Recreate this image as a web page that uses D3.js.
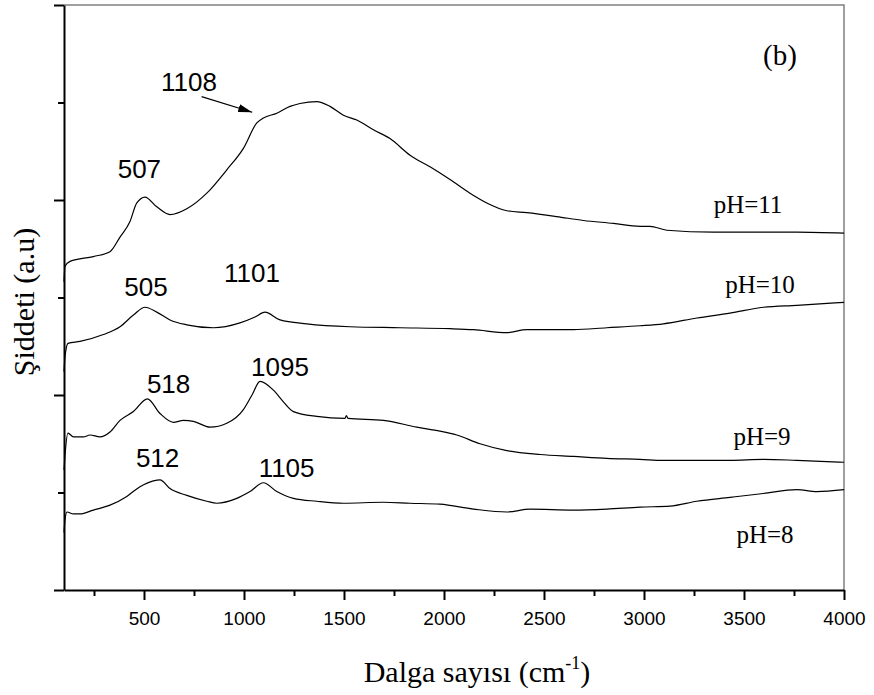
<!DOCTYPE html>
<html>
<head>
<meta charset="utf-8">
<script src="https://cdn.jsdelivr.net/npm/d3@7"></script>
<style>
  body { margin: 0; background: #fff; }
  svg { display: block; }
</style>
</head>
<body>
<svg id="chart"></svg>
<script>
// spectra: [wavenumber, intensity]
const ph11 = [
  [100, 3.16], [105, 3.32], [130, 3.37], [247, 3.42], [330, 3.47], [380, 3.62],
  [430, 3.78], [464, 3.97], [505, 4.03], [564, 3.93], [630, 3.85], [714, 3.91],
  [814, 4.07], [914, 4.31], [997, 4.53], [1064, 4.79], [1097, 4.84], [1164, 4.89],
  [1230, 4.96], [1280, 4.99], [1364, 5.01], [1430, 4.96], [1497, 4.87], [1564, 4.82],
  [1647, 4.72], [1730, 4.63], [1830, 4.46], [1930, 4.34], [2030, 4.21], [2130, 4.07],
  [2214, 3.97], [2314, 3.89], [2414, 3.87], [2564, 3.83], [2697, 3.79], [2847, 3.76],
  [2980, 3.73], [3030, 3.73], [3114, 3.69], [3347, 3.67], [3764, 3.67], [4000, 3.66]
];
const ph10 = [
  [100, 2.24], [105, 2.39], [120, 2.53], [180, 2.55], [297, 2.62], [380, 2.70],
  [447, 2.82], [505, 2.90], [564, 2.85], [630, 2.77], [714, 2.72], [847, 2.69],
  [980, 2.74], [1055, 2.80], [1105, 2.85], [1180, 2.77], [1314, 2.73], [1530, 2.70],
  [1780, 2.69], [2030, 2.68], [2147, 2.67], [2314, 2.64], [2414, 2.67], [2647, 2.67],
  [2814, 2.69], [2980, 2.71], [3097, 2.73], [3264, 2.79], [3430, 2.84], [3597, 2.90],
  [3764, 2.92], [4000, 2.95]
];
const ph9 = [
  [100, 1.23], [105, 1.38], [120, 1.61], [147, 1.57], [197, 1.57], [230, 1.59],
  [280, 1.57], [330, 1.62], [380, 1.74], [447, 1.83], [517, 1.96], [580, 1.81],
  [647, 1.72], [697, 1.74], [747, 1.73], [830, 1.67], [914, 1.71], [997, 1.85],
  [1040, 2.00], [1080, 2.14], [1147, 2.05], [1197, 1.93], [1247, 1.83], [1364, 1.78],
  [1505, 1.76], [1512, 1.79], [1520, 1.76], [1697, 1.74], [1864, 1.67], [1980, 1.63],
  [2064, 1.59], [2180, 1.50], [2314, 1.43], [2480, 1.39], [2647, 1.37], [2814, 1.35],
  [2980, 1.34], [3097, 1.33], [3430, 1.33], [3597, 1.34], [3764, 1.33], [4000, 1.31]
];
const ph8 = [
  [100, 0.59], [105, 0.72], [115, 0.80], [147, 0.78], [180, 0.78], [247, 0.82],
  [330, 0.87], [414, 0.96], [480, 1.06], [547, 1.12], [580, 1.13], [630, 1.04],
  [714, 0.97], [814, 0.91], [864, 0.89], [964, 0.94], [1030, 1.01], [1097, 1.10],
  [1164, 1.01], [1247, 0.94], [1364, 0.91], [1497, 0.89], [1697, 0.90], [1830, 0.89],
  [1980, 0.88], [2147, 0.83], [2314, 0.80], [2430, 0.83], [2647, 0.82], [2814, 0.83],
  [2980, 0.85], [3130, 0.86], [3264, 0.91], [3430, 0.95], [3597, 0.99], [3764, 1.03],
  [3864, 1.01], [4000, 1.03]
];

const seriesNames = ["pH=11", "pH=10", "pH=9", "pH=8"];
const seriesData = [ph11, ph10, ph9, ph8];
// where each series name sits [wavenumber, intensity]
const seriesLabelAt = [[3520, 3.87], [3580, 3.05], [3590, 1.49], [3605, 0.48]];

const peakTexts = ["1108", "507", "505", "1101", "518", "1095", "512", "1105"];
const peakTextAt = [
  [725, 5.12], [477, 4.23], [510, 3.02], [1040, 3.16],
  [623, 2.02], [1180, 2.19], [568, 1.26], [1213, 1.16]
];
// arrow pointing at the 1108 shoulder
const arrowFrom = [788, 5.06];
const arrowTo = [1041, 4.90];

const xMajor = [500, 1000, 1500, 2000, 2500, 3000, 3500, 4000];
const xMinor = [250, 750, 1250, 1750, 2250, 2750, 3250, 3750];
const yMajor = [0, 2, 4, 6];
const yMinor = [1, 3, 5];

const W = 874, H = 695;
const margin = { top: 5, right: 30, bottom: 105, left: 64 };
const width = W - margin.left - margin.right;
const height = H - margin.top - margin.bottom;

const svg = d3.select("#chart").attr("width", W).attr("height", H);
const g = svg.append("g")
  .attr("transform", "translate(" + margin.left + "," + margin.top + ")");

const x = d3.scaleLinear().domain([100, 4000]).range([0, width]);
const y = d3.scaleLinear().domain([0, 6]).range([height, 0]);

const sans = "'Liberation Sans', Arial, sans-serif";
const serif = "'Liberation Serif', 'Times New Roman', serif";

// top / right frame in grey
g.append("path")
  .attr("d", "M0,0H" + width + "V" + height)
  .attr("fill", "none")
  .attr("stroke", "#808080")
  .attr("stroke-width", 1.5);

// x axis
const xAxis = g.append("g")
  .attr("transform", "translate(0," + height + ")")
  .call(d3.axisBottom(x).tickValues(xMajor).tickSize(10).tickSizeOuter(0)
    .tickPadding(12).tickFormat(d3.format("d")));
g.append("g")
  .attr("transform", "translate(0," + height + ")")
  .call(d3.axisBottom(x).tickValues(xMinor).tickSize(6).tickSizeOuter(0).tickFormat(""))
  .select(".domain").remove();
xAxis.selectAll("text")
  .attr("font-family", sans)
  .attr("font-size", 19)
  .attr("fill", "#000");

// y axis (no labels)
g.append("g")
  .call(d3.axisLeft(y).tickValues(yMajor).tickSize(10).tickSizeOuter(0).tickFormat(""));
g.append("g")
  .call(d3.axisLeft(y).tickValues(yMinor).tickSize(6).tickSizeOuter(0).tickFormat(""))
  .select(".domain").remove();

g.selectAll(".domain, .tick line")
  .attr("stroke", "#000")
  .attr("stroke-width", 2);

// spectra
const line = d3.line()
  .curve(d3.curveMonotoneX)
  .x((d) => x(d[0]))
  .y((d) => y(d[1]));

g.selectAll(".spectrum")
  .data(seriesData)
  .enter()
  .append("path")
  .attr("class", "spectrum")
  .attr("d", line)
  .attr("fill", "none")
  .attr("stroke", "#000")
  .attr("stroke-width", 1.2)
  .attr("stroke-linejoin", "round");

// series names
g.selectAll(".series-label")
  .data(seriesNames)
  .enter()
  .append("text")
  .attr("class", "series-label")
  .attr("x", (d, i) => x(seriesLabelAt[i][0]))
  .attr("y", (d, i) => y(seriesLabelAt[i][1]))
  .attr("text-anchor", "middle")
  .attr("font-family", serif)
  .attr("font-size", 25)
  .text((d) => d);

// peak positions
g.selectAll(".peak-label")
  .data(peakTexts)
  .enter()
  .append("text")
  .attr("class", "peak-label")
  .attr("x", (d, i) => x(peakTextAt[i][0]))
  .attr("y", (d, i) => y(peakTextAt[i][1]))
  .attr("text-anchor", "middle")
  .attr("font-family", sans)
  .attr("font-size", 26)
  .text((d) => d);

// arrow
svg.append("defs").append("marker")
  .attr("id", "head")
  .attr("viewBox", "0 0 14 8")
  .attr("refX", 14)
  .attr("refY", 4)
  .attr("markerWidth", 14)
  .attr("markerHeight", 8)
  .attr("markerUnits", "userSpaceOnUse")
  .attr("orient", "auto")
  .append("path")
  .attr("d", "M0,0L14,4L0,8Z")
  .attr("fill", "#000");

g.append("line")
  .attr("x1", x(arrowFrom[0]))
  .attr("y1", y(arrowFrom[1]))
  .attr("x2", x(arrowTo[0]))
  .attr("y2", y(arrowTo[1]))
  .attr("stroke", "#000")
  .attr("stroke-width", 1.2)
  .attr("marker-end", "url(#head)");

// panel tag
g.append("text")
  .attr("x", x(3680))
  .attr("y", 60)
  .attr("text-anchor", "middle")
  .attr("font-family", serif)
  .attr("font-size", 29)
  .text("(b)");

// axis titles
const xt = svg.append("text")
  .attr("x", 477)
  .attr("y", 682)
  .attr("text-anchor", "middle")
  .attr("font-family", serif)
  .attr("font-size", 30);
xt.append("tspan").text("Dalga sayısı (cm");
xt.append("tspan").attr("font-size", 18).attr("dy", -13).text("-1");
xt.append("tspan").attr("dy", 13).text(")");

svg.append("text")
  .attr("transform", "translate(34,302) rotate(-90)")
  .attr("text-anchor", "middle")
  .attr("font-family", serif)
  .attr("font-size", 30)
  .text("Şiddeti (a.u)");
</script>
</body>
</html>
